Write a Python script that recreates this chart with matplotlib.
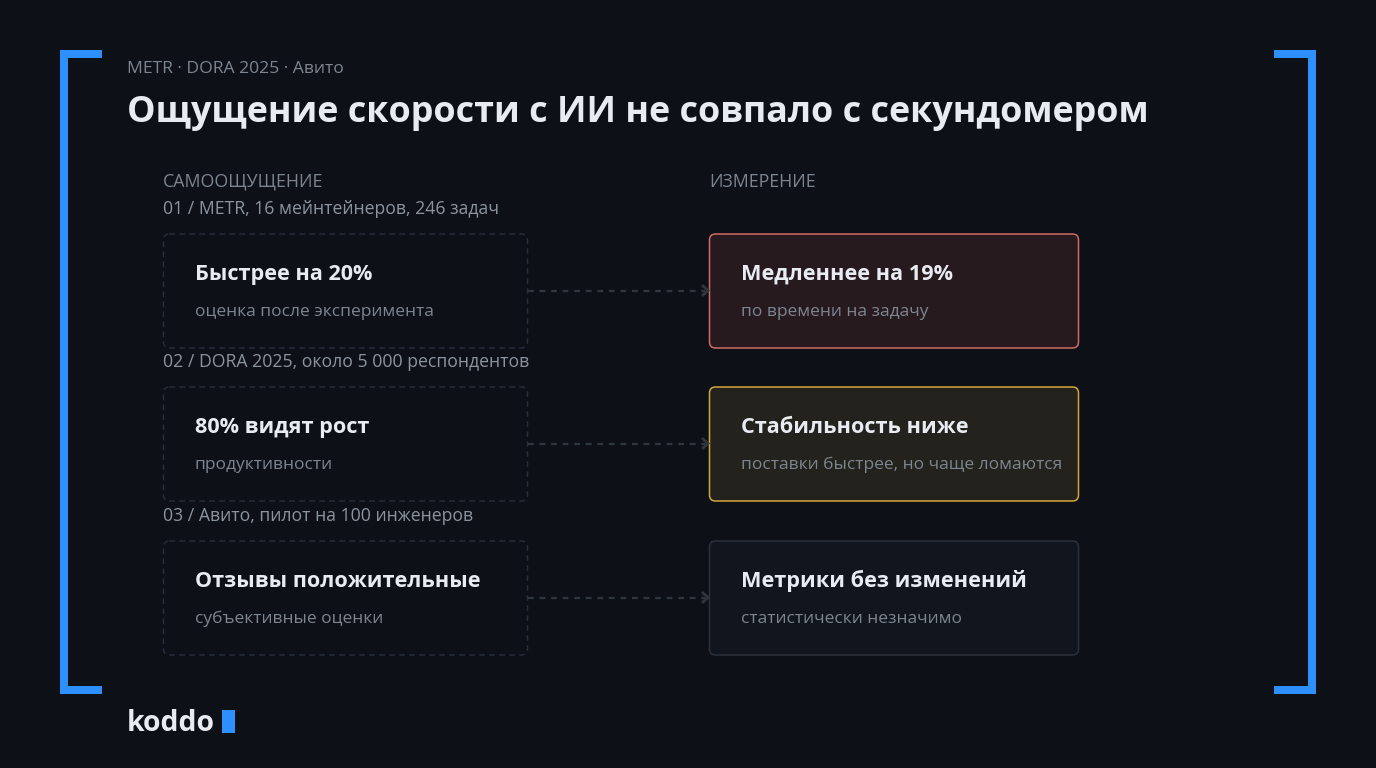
import matplotlib
matplotlib.use("Agg")
import matplotlib.pyplot as plt
from matplotlib.patches import FancyBboxPatch, Rectangle

eyebrow = "METR · DORA 2025 · Авито"
title = "Ощущение скорости с ИИ не совпало с секундомером"
col_left = "САМООЩУЩЕНИЕ"
col_right = "ИЗМЕРЕНИЕ"
sources = ["01 / METR, 16 мейнтейнеров, 246 задач",
           "02 / DORA 2025, около 5 000 респондентов",
           "03 / Авито, пилот на 100 инженеров"]
left_heads = ["Быстрее на 20%", "80% видят рост", "Отзывы положительные"]
left_subs = ["оценка после эксперимента", "продуктивности", "субъективные оценки"]
right_heads = ["Медленнее на 19%", "Стабильность ниже", "Метрики без изменений"]
right_subs = ["по времени на задачу", "поставки быстрее, но чаще ломаются", "статистически незначимо"]
right_faces = ["#271A1F", "#23221C", "#11151E"]
right_edges = ["#CE6A63", "#D3A53C", "#2B313B"]
brand = "koddo"

BG = "#0D1117"; BLUE = "#2E8FFF"; WHITE = "#E8ECF2"; GREY = "#7D8590"; GREY2 = "#8B949E"
plt.rcParams["font.family"] = ["Open Sans", "DejaVu Sans"]

fig = plt.figure(figsize=(13.76, 7.68), dpi=100, facecolor=BG)
ax = fig.add_axes([0, 0, 1, 1])
ax.set_xlim(0, 1376); ax.set_ylim(768, 0); ax.axis("off")

def rect(x, y, w, h):
    ax.add_patch(Rectangle((x, y), w, h, fc=BLUE, ec="none"))

def label(x, y, s, color, size, weight="normal"):
    ax.text(x, y, s, color=color, fontsize=size, fontweight=weight, va="baseline", ha="left")

rect(60, 50, 8, 644); rect(60, 50, 42, 8); rect(60, 686, 42, 8)
rect(1308, 50, 8, 644); rect(1274, 50, 42, 8); rect(1274, 686, 42, 8)

label(127, 73, eyebrow, GREY, 12.6)
label(127, 122, title, WHITE, 25.85, "bold")
label(163, 187, col_left, GREY, 12.8)
label(709, 187, col_right, GREY, 12.8)

tops = [234, 387, 541]
H = 114
for i, top in enumerate(tops):
    label(163, top - 20, sources[i], GREY2, 12.7)
    ax.add_patch(FancyBboxPatch((163.5, top), 364, H, boxstyle="round,pad=0,rounding_size=6",
                                fc=BG, ec="#272F3D", lw=1.0, ls=(0, (4, 3.2))))
    ax.add_patch(FancyBboxPatch((709.5, top), 369, H, boxstyle="round,pad=0,rounding_size=6",
                                fc=right_faces[i], ec=right_edges[i], lw=1.1))
    label(195, top + 46, left_heads[i], WHITE, 15.6, "bold")
    label(195, top + 82, left_subs[i], GREY, 12.55)
    label(741, top + 46, right_heads[i], WHITE, 15.6, "bold")
    label(741, top + 82, right_subs[i], GREY, 12.55)
    ymid = top + 56.5
    ax.plot([528, 705], [ymid, ymid], color="#30363D", lw=1.6, ls=(0, (2.6, 2.6)), zorder=1)
    ax.plot([703, 708, 703], [ymid - 4.5, ymid, ymid + 4.5], color="#30363D", lw=2.0, zorder=1,
            solid_joinstyle="miter")

label(127, 731, brand, WHITE, 20.4, "bold")
rect(222, 710, 13, 23)

fig.savefig("out.png", dpi=100, facecolor=BG)
